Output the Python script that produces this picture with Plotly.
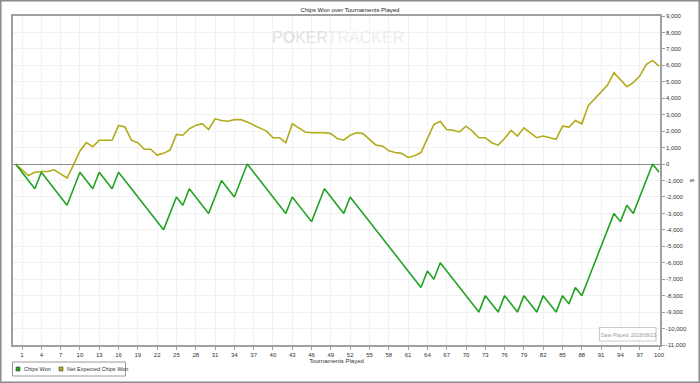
import plotly.graph_objects as go

tournaments = list(range(101))
chips_won = [0, -500, -1000, -1500, -500, -1000, -1500, -2000, -2500, -1500,
             -500, -1000, -1500, -500, -1000, -1500, -500, -1000, -1500, -2000,
             -2500, -3000, -3500, -4000, -3000, -2000, -2500, -1500, -2000, -2500,
             -3000, -2000, -1000, -1500, -2000, -1000, 0, -500, -1000, -1500,
             -2000, -2500, -3000, -2000, -2500, -3000, -3500, -2500, -1500, -2000,
             -2500, -3000, -2000, -2500, -3000, -3500, -4000, -4500, -5000, -5500,
             -6000, -6500, -7000, -7500, -6500, -7000, -6000, -6500, -7000, -7500,
             -8000, -8500, -9000, -8000, -8500, -9000, -8000, -8500, -9000, -8000,
             -8500, -9000, -8000, -8500, -9000, -8000, -8500, -7500, -8000, -7000,
             -6000, -5000, -4000, -3000, -3500, -2500, -3000, -2000, -1000, 0,
             -500]
net_expected = [0, -350, -700, -500, -450, -450, -350, -600, -850, -50,
                800, 1300, 1050, 1450, 1450, 1450, 2350, 2250, 1450, 1300,
                900, 900, 550, 650, 850, 1800, 1750, 2150, 2350, 2450,
                2100, 2750, 2650, 2600, 2700, 2700, 2550, 2350, 2150, 2000,
                1600, 1600, 1300, 2450, 2200, 1950, 1900, 1900, 1900, 1850,
                1550, 1450, 1750, 1900, 1850, 1500, 1150, 1100, 800, 700,
                650, 400, 500, 700, 1550, 2400, 2600, 2100, 2050, 1950,
                2300, 2000, 1600, 1600, 1300, 1150, 1550, 2050, 1700, 2200,
                1900, 1600, 1700, 1600, 1500, 2300, 2250, 2650, 2450, 3550,
                3950, 4400, 4800, 5550, 5100, 4700, 4950, 5350, 6050, 6300,
                5950]
x_ticks = list(range(1, 101, 3))
y_ticks = list(range(-11000, 9001, 1000))
series_names = ["Chips Won", "Net Expected Chips Won"]
title_text = "Chips Won over Tournaments Played"
x_title = "Tournaments Played"
date_text = "Date Played: 2018/08/23"

GREEN = "#22a322"
YELLOW = "#b2ab1c"
FONT = "Liberation Sans"

fig = go.Figure()
fig.add_trace(go.Scatter(x=tournaments, y=net_expected, mode="lines",
                         line=dict(color=YELLOW, width=1.6), name=series_names[1],
                         showlegend=False, hoverinfo="skip"))
fig.add_trace(go.Scatter(x=tournaments, y=chips_won, mode="lines",
                         line=dict(color=GREEN, width=1.6), name=series_names[0],
                         showlegend=False, hoverinfo="skip"))

def fmt(v):
    s = f"{abs(v):,}"
    return ("-" + s) if v < 0 else s

L, R, T, B = 13, 40, 16, 38
W, H = 700, 383
pw, ph = W - L - R, H - T - B

def px(x):
    return (x - L) / pw

def py(y):
    return (H - B - y) / ph

shapes = []
# outer frame
shapes.append(dict(type="rect", xref="paper", yref="paper",
                   x0=px(0.8), x1=px(699.2), y0=py(382.2), y1=py(0.8),
                   line=dict(color="#8a8a8a", width=1.5), fillcolor="rgba(0,0,0,0)", layer="below"))
# legend box
shapes.append(dict(type="rect", xref="paper", yref="paper",
                   x0=px(12.5), x1=px(125.5), y0=py(376), y1=py(362),
                   line=dict(color="#9a9a9a", width=1), fillcolor="white"))
shapes.append(dict(type="rect", xref="paper", yref="paper",
                   x0=px(16), x1=px(20), y0=py(371), y1=py(367),
                   line=dict(color="#444444", width=0.6), fillcolor=GREEN))
shapes.append(dict(type="rect", xref="paper", yref="paper",
                   x0=px(59), x1=px(63), y0=py(371), y1=py(367),
                   line=dict(color="#444444", width=0.6), fillcolor=YELLOW))
# date box
shapes.append(dict(type="rect", xref="paper", yref="paper",
                   x0=px(599.5), x1=px(656), y0=py(341), y1=py(327.5),
                   line=dict(color="#cccccc", width=1.2), fillcolor="white"))

annotations = [
    dict(xref="paper", yref="paper", x=px(22), y=py(369), text=series_names[0],
         showarrow=False, xanchor="left", yanchor="middle",
         font=dict(family=FONT, size=5.5, color="#333333")),
    dict(xref="paper", yref="paper", x=px(64.5), y=py(369), text=series_names[1],
         showarrow=False, xanchor="left", yanchor="middle",
         font=dict(family=FONT, size=5.5, color="#333333")),
    dict(xref="paper", yref="paper", x=px(628), y=py(334.5), text=date_text,
         showarrow=False, xanchor="center", yanchor="middle",
         font=dict(family=FONT, size=5, color="#999999")),
    dict(xref="paper", yref="paper", x=px(338), y=py(38), text="P<b>O</b>KER<span style='color:#eeeeee'>TRACKER</span>",
         showarrow=False, xanchor="center", yanchor="middle",
         font=dict(family=FONT, size=16, color="#e2e2e2")),
]

fig.update_layout(
    width=W, height=H,
    margin=dict(l=L, r=R, t=T, b=B, autoexpand=False),
    paper_bgcolor="white", plot_bgcolor="white",
    title=dict(text=title_text, x=0.5, xanchor="center", y=1 - 10 / H, yanchor="middle",
               font=dict(family=FONT, size=6, color="#222222")),
    font=dict(family=FONT, size=6, color="#333333"),
    shapes=shapes, annotations=annotations,
    showlegend=False,
)
fig.update_xaxes(
    range=[-0.4, 100.15], tickvals=x_ticks, ticktext=[str(v) for v in x_ticks],
    showgrid=True, gridcolor="#f1f1f1", gridwidth=1,
    showline=True, linecolor="#a0a0a0", linewidth=1.5, mirror=True,
    ticks="outside", ticklen=3, tickcolor="#a0a0a0",
    tickfont=dict(family=FONT, size=6, color="#333333"),
    title=dict(text=x_title, font=dict(family=FONT, size=6, color="#333333"), standoff=2),
    zeroline=False, automargin=False,
)
fig.update_yaxes(
    range=[-11000, 9000], side="right", tickvals=y_ticks, ticktext=[fmt(v) for v in y_ticks],
    showgrid=True, gridcolor="#f1f1f1", gridwidth=1,
    showline=True, linecolor="#a0a0a0", linewidth=1.5, mirror=True,
    ticks="outside", ticklen=3, tickcolor="#a0a0a0",
    tickfont=dict(family=FONT, size=6, color="#333333"),
    title=dict(text="$", font=dict(family=FONT, size=6, color="#333333"), standoff=4),
    zeroline=True, zerolinecolor="#8c8c8c", zerolinewidth=1.2, automargin=False,
)

fig.write_html("out.html")
